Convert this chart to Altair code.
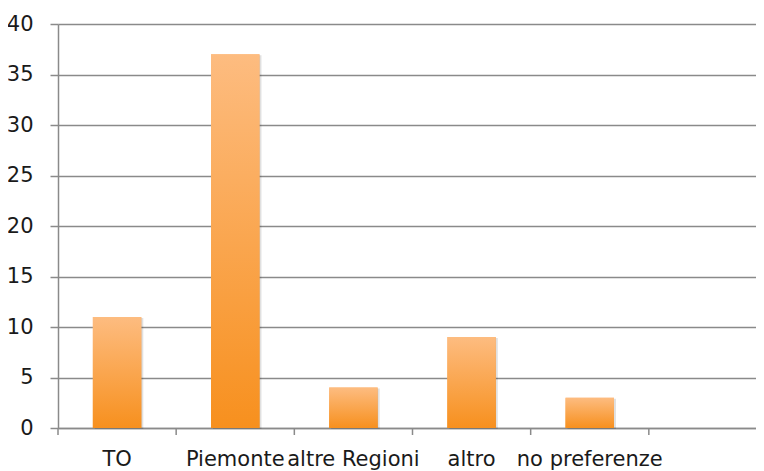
import altair as alt
import pandas as pd

categories = ["TO", "Piemonte", "altre Regioni", "altro", "no preferenze"]
values = [11, 37, 4, 9, 3]
slots = categories + [" "]  # empty sixth slot on the category axis
y_ticks = [0, 5, 10, 15, 20, 25, 30, 35, 40]

bars_df = pd.DataFrame({"cat": categories, "val": values})
ticks_df = pd.DataFrame({"cat": slots})

W, H = 698, 404
RANGE_W = 709
PI, PO = 0.59, 0.295
step = RANGE_W / len(slots)
GRAY = "#8a8a8a"
FONT = "DejaVu Sans"
FS = 21

xscale = alt.Scale(domain=slots, range=[0, RANGE_W], paddingInner=PI, paddingOuter=PO)
yscale = alt.Scale(domain=[0, 40], nice=False)

x_axis = alt.Axis(title=None, ticks=False, labelAngle=0, labelFont=FONT,
                  labelFontSize=FS, labelColor="#1a1a1a", labelPadding=20,
                  labelOverlap=False, domainColor=GRAY, domainWidth=1.5,
                  grid=False, labelBound=False)
y_axis = alt.Axis(title=None, values=y_ticks, grid=True, gridColor=GRAY,
                  gridWidth=1.5, domainColor=GRAY, domainWidth=1.5,
                  tickColor=GRAY, tickWidth=1.5, tickSize=8,
                  labelFont=FONT, labelFontSize=FS, labelColor="#1a1a1a",
                  labelPadding=17)

x_enc = alt.X("cat:N", scale=xscale, sort=slots, axis=x_axis)
y_enc = alt.Y("val:Q", scale=yscale, axis=y_axis)

grad = alt.LinearGradient(
    gradient="linear",
    stops=[alt.GradientStop(color="#FDBC80", offset=0),
           alt.GradientStop(color="#F7901E", offset=1)],
    x1=0, x2=0, y1=0, y2=1,
)

bars = alt.Chart(bars_df).mark_bar(color=grad).encode(x=x_enc, y=y_enc)

shadow = alt.Chart(bars_df).mark_bar(color="#000000", opacity=0.12, xOffset=2, yOffset=1).encode(
    x=x_enc, y=y_enc
)

xticks = alt.Chart(ticks_df).mark_rule(color=GRAY, strokeWidth=1.5, xOffset=-step / 2).encode(
    x=x_enc,
    y=alt.value(H),
    y2=alt.value(H + 7),
)

chart = alt.layer(bars, shadow, bars, xticks).properties(
    width=W, height=H,
    autosize=alt.AutoSizeParams(type="none"),
    padding={"left": 50, "top": 16, "right": 0, "bottom": 43},
).configure_view(stroke=None)

chart.save("out.html", embed_options={"renderer": "svg", "actions": False})
